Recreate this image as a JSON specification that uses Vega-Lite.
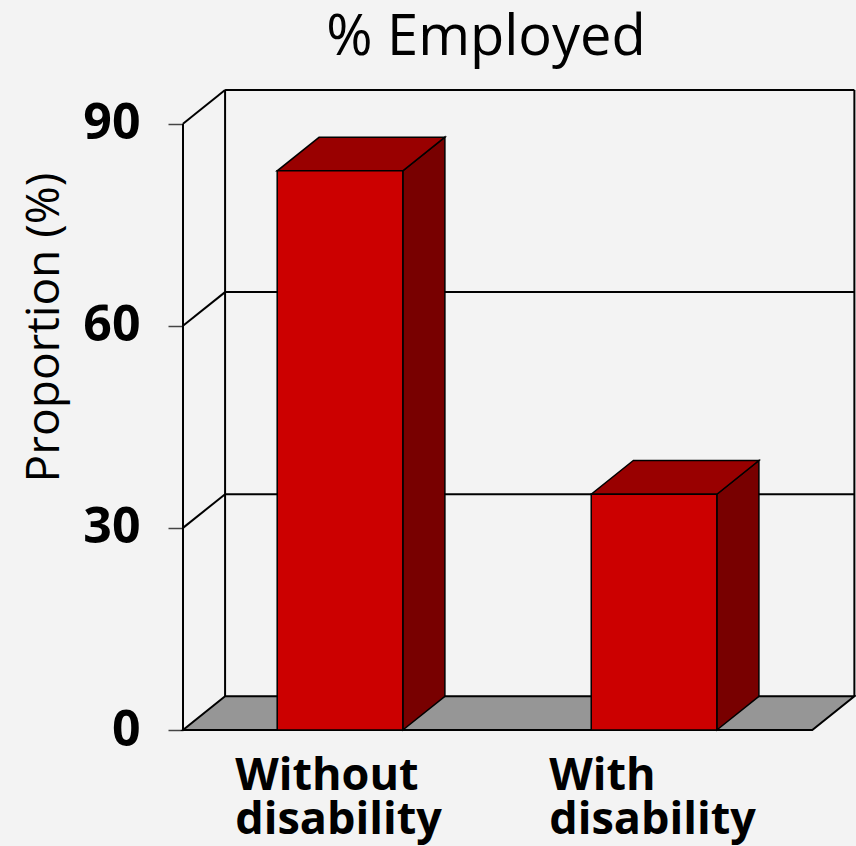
{
  "$schema": "https://vega.github.io/schema/vega-lite/v6.json",
  "width": 672,
  "height": 640,
  "autosize": {"type": "none"},
  "padding": {"left": 183, "top": 90, "right": 1, "bottom": 116},
  "background": "#f3f3f3",
  "config": {"view": {"stroke": null}, "font": "Open Sans"},
  "title": {
    "text": "% Employed",
    "font": "Open Sans",
    "fontSize": 56,
    "fontWeight": "normal",
    "color": "black",
    "anchor": "middle",
    "dx": -33,
    "offset": 22
  },
  "datasets": {
    "employment": [
      {"group": "Without disability", "pct": 83},
      {"group": "With disability", "pct": 35}
    ],
    "gridlines": [{"tick": 30}, {"tick": 60}, {"tick": 90}],
    "depths": [{"depth": 0}, {"depth": 1}]
  },
  "layer": [
    {
      "data": {"name": "employment"},
      "transform": [
        {"window": [{"op": "row_number", "as": "i"}]},
        {"calculate": "datum.i - 0.7", "as": "xl"},
        {"calculate": "datum.i - 0.3", "as": "xr"}
      ],
      "mark": {"type": "bar", "fill": "#cc0000", "opacity": 0},
      "encoding": {
        "x": {"field": "xl", "type": "quantitative", "scale": {"domain": [0, 2.14], "nice": false, "zero": false}, "axis": null},
        "x2": {"field": "xr"},
        "y": {
          "field": "pct",
          "type": "quantitative",
          "scale": {"domain": [0, 95], "nice": false},
          "axis": {
            "title": "Proportion (%)",
            "values": [0, 30, 60, 90],
            "domain": false,
            "grid": false,
            "ticks": true,
            "tickSize": 15,
            "tickWidth": 1.5,
            "tickColor": "#444444",
            "labelFont": "Open Sans",
            "labelFontWeight": "bold",
            "labelFontSize": 50,
            "labelColor": "black",
            "labelPadding": 28,
            "labelFlush": false,
            "labelOverlap": false,
            "titleFont": "Open Sans",
            "titleFontWeight": "normal",
            "titleFontSize": 46,
            "titleColor": "black",
            "titlePadding": 14,
            "titleY": 237
          }
        },
        "y2": {"datum": 0}
      }
    },
    {
      "data": {"name": "depths"},
      "transform": [
        {"calculate": "datum.depth * 0.134", "as": "fx"},
        {"calculate": "2.004 + datum.depth * 0.134", "as": "fx2"},
        {"calculate": "datum.depth * 5", "as": "fy"}
      ],
      "mark": {"type": "area", "orient": "horizontal", "fill": "#969696", "stroke": "black", "strokeWidth": 2},
      "encoding": {
        "y": {"field": "fy", "type": "quantitative", "title": "Proportion (%)"},
        "x": {"field": "fx", "type": "quantitative", "axis": null},
        "x2": {"field": "fx2"}
      }
    },
    {
      "data": {"values": [{"edge": "front", "bx": 0, "by": 0, "by2": 90}, {"edge": "back-left", "bx": 0.134, "by": 5, "by2": 95}, {"edge": "back-right", "bx": 2.138, "by": 5, "by2": 95}]},
      "mark": {"type": "rule", "color": "black", "strokeWidth": 2},
      "encoding": {
        "x": {"field": "bx", "type": "quantitative", "axis": null},
        "y": {"field": "by", "type": "quantitative", "title": "Proportion (%)"},
        "y2": {"field": "by2"}
      }
    },
    {
      "data": {"name": "gridlines"},
      "transform": [{"calculate": "datum.tick + 5", "as": "back"}],
      "mark": {"type": "rule", "color": "black", "strokeWidth": 2},
      "encoding": {
        "x": {"datum": 0.134, "type": "quantitative", "axis": null},
        "x2": {"datum": 2.138},
        "y": {"field": "back", "type": "quantitative", "title": "Proportion (%)"}
      }
    },
    {
      "data": {"name": "gridlines"},
      "transform": [{"calculate": "datum.tick + 5", "as": "back"}],
      "mark": {"type": "rule", "color": "black", "strokeWidth": 2},
      "encoding": {
        "x": {"datum": 0, "type": "quantitative", "axis": null},
        "x2": {"datum": 0.134},
        "y": {"field": "tick", "type": "quantitative", "title": "Proportion (%)"},
        "y2": {"field": "back"}
      }
    },
    {
      "data": {"name": "employment"},
      "transform": [
        {"window": [{"op": "row_number", "as": "i"}]},
        {"calculate": "[0, 1]", "as": "d"},
        {"flatten": ["d"]},
        {"calculate": "datum.i - 0.3 + datum.d * 0.134", "as": "sx"},
        {"calculate": "datum.pct + 5 * datum.d", "as": "sy"},
        {"calculate": "5 * datum.d", "as": "sy0"}
      ],
      "mark": {"type": "area", "fill": "#780000", "stroke": "black", "strokeWidth": 1.5},
      "encoding": {
        "x": {"field": "sx", "type": "quantitative", "axis": null},
        "y": {"field": "sy", "type": "quantitative", "title": "Proportion (%)"},
        "y2": {"field": "sy0"},
        "detail": {"field": "group"}
      }
    },
    {
      "data": {"name": "employment"},
      "transform": [
        {"window": [{"op": "row_number", "as": "i"}]},
        {"calculate": "[0, 1]", "as": "d"},
        {"flatten": ["d"]},
        {"calculate": "datum.i - 0.7 + datum.d * 0.134", "as": "tx"},
        {"calculate": "datum.i - 0.3 + datum.d * 0.134", "as": "tx2"},
        {"calculate": "datum.pct + 5 * datum.d", "as": "ty"}
      ],
      "mark": {"type": "area", "orient": "horizontal", "fill": "#990000", "stroke": "black", "strokeWidth": 1.5},
      "encoding": {
        "y": {"field": "ty", "type": "quantitative", "title": "Proportion (%)"},
        "x": {"field": "tx", "type": "quantitative", "axis": null},
        "x2": {"field": "tx2"},
        "detail": {"field": "group"}
      }
    },
    {
      "data": {"name": "employment"},
      "transform": [
        {"window": [{"op": "row_number", "as": "i"}]},
        {"calculate": "datum.i - 0.7", "as": "xl"},
        {"calculate": "datum.i - 0.3", "as": "xr"}
      ],
      "mark": {"type": "bar", "fill": "#cc0000", "stroke": "black", "strokeWidth": 1.5},
      "encoding": {
        "x": {"field": "xl", "type": "quantitative", "axis": null},
        "x2": {"field": "xr"},
        "y": {"field": "pct", "type": "quantitative", "title": "Proportion (%)"},
        "y2": {"datum": 0}
      }
    },
    {
      "data": {"name": "employment"},
      "transform": [
        {"window": [{"op": "row_number", "as": "i"}]},
        {"calculate": "datum.i - 0.7", "as": "xl"}
      ],
      "mark": {
        "type": "text",
        "align": "left",
        "baseline": "top",
        "dx": -42,
        "dy": 24,
        "font": "Open Sans",
        "fontWeight": "bold",
        "fontSize": 45,
        "lineBreak": " ",
        "lineHeight": 44,
        "color": "black"
      },
      "encoding": {
        "x": {"field": "xl", "type": "quantitative", "axis": null},
        "y": {"datum": 0, "type": "quantitative", "title": "Proportion (%)"},
        "text": {"field": "group"}
      }
    }
  ]
}
